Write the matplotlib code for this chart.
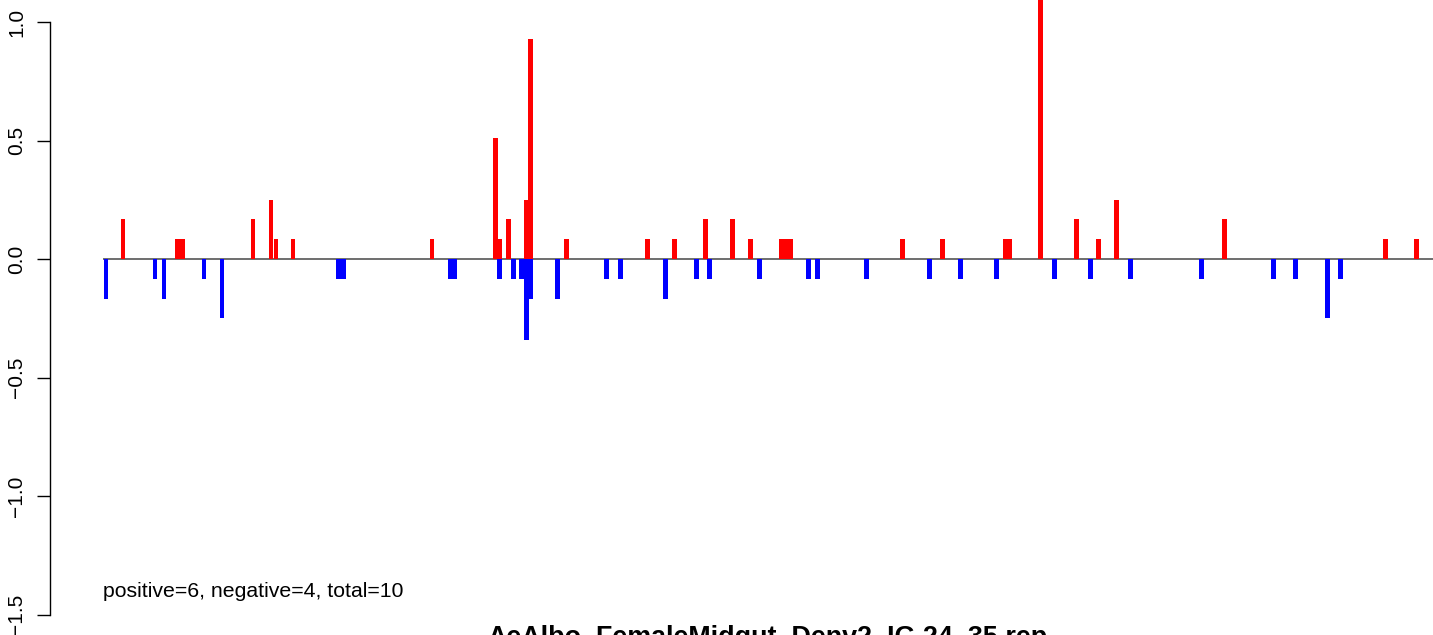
#!/usr/bin/env python3
"""
Barras de senal positiva (rojo) y negativa (azul) por posicion,
estilo grafico base de R (type='h' con lineas gruesas).
"""

import matplotlib
matplotlib.use('Agg')
import matplotlib.pyplot as plt

# ===================== DATOS =====================

TITULO = "AeAlbo_FemaleMidgut_Denv2_IG.24_35.rep"
NOTA = "positive=6, negative=4, total=10"

POS_X = [123, 177.5, 182.5, 253, 271, 276, 293, 432, 495.5, 500, 508.5,
         526, 530.5, 566.5, 647.5, 674.5, 705.5, 732.5, 750.5, 781.5, 786,
         790.5, 902.5, 942.5, 1005.5, 1010, 1040.5, 1076.5, 1098.5, 1116.5,
         1224.5, 1385.5, 1416.5]
POS_Y = [0.17, 0.085, 0.085, 0.17, 0.25, 0.085, 0.085, 0.085, 0.51, 0.085,
         0.17, 0.25, 0.93, 0.085, 0.085, 0.085, 0.17, 0.17, 0.085, 0.085,
         0.085, 0.085, 0.085, 0.085, 0.085, 0.085, 1.35, 0.17, 0.085, 0.25,
         0.17, 0.085, 0.085]

NEG_X = [106, 155, 164, 204, 222, 338.5, 343.5, 450.5, 454.5, 499.5, 513.5,
         521.5, 526.5, 531, 557.5, 606.5, 620.5, 665.5, 696.5, 709.5, 759.5,
         808.5, 817.5, 866.5, 929.5, 960.5, 996.5, 1054.5, 1090.5, 1130.5,
         1201.5, 1273.5, 1295.5, 1327.5, 1340.5]
NEG_Y = [-0.17, -0.085, -0.17, -0.085, -0.25, -0.085, -0.085, -0.085, -0.085,
         -0.085, -0.085, -0.085, -0.34, -0.17, -0.17, -0.085, -0.085, -0.17,
         -0.085, -0.085, -0.085, -0.085, -0.085, -0.085, -0.085, -0.085,
         -0.085, -0.085, -0.085, -0.085, -0.085, -0.085, -0.085, -0.25,
         -0.085]

Y_TICKS = [-1.5, -1.0, -0.5, 0.0, 0.5, 1.0]

# ===================== FIGURA =====================

W, H, DPI = 1433, 635, 100
plt.rcParams['font.family'] = ['Liberation Sans', 'DejaVu Sans']

fig = plt.figure(figsize=(W / DPI, H / DPI), dpi=DPI)
ax = fig.add_axes([50 / W, 0, (W - 50) / W, 1])
ax.set_xlim(50, W)
ax.set_ylim(-(H - 259) / 237, 259 / 237)

ax.hlines(0, min(NEG_X[0], POS_X[0]) - 3, W, color='#6e6e6e', lw=1.4,
          zorder=1)
ax.bar(POS_X, POS_Y, width=4.7, color='#ff0000', linewidth=0, zorder=2)
ax.bar(NEG_X, NEG_Y, width=4.7, color='#0000ff', linewidth=0, zorder=2)

for s in ['top', 'right', 'bottom']:
    ax.spines[s].set_visible(False)
ax.spines['left'].set_bounds(-1.5, 1.0)
ax.spines['left'].set_linewidth(1.0)
ax.set_xticks([])
ax.set_yticks(Y_TICKS)
ax.set_yticklabels([f"{t:.1f}".replace('-', '\u2212') for t in Y_TICKS],
                   rotation=90, va='center', fontsize=15)
ax.tick_params(axis='y', length=9.5, width=1.0, pad=7.5)
ax.patch.set_alpha(0)

ax.text(103, -(597 - 259) / 237, NOTA, fontsize=15.3, ha='left',
        va='baseline')
# titulo abajo, recortado por el borde igual que en la original
fig.text(767 / W, (H - 645) / H, TITULO, fontsize=19.4, fontweight='bold',
         ha='center', va='baseline')

fig.savefig('out.png', dpi=DPI)
plt.close(fig)
